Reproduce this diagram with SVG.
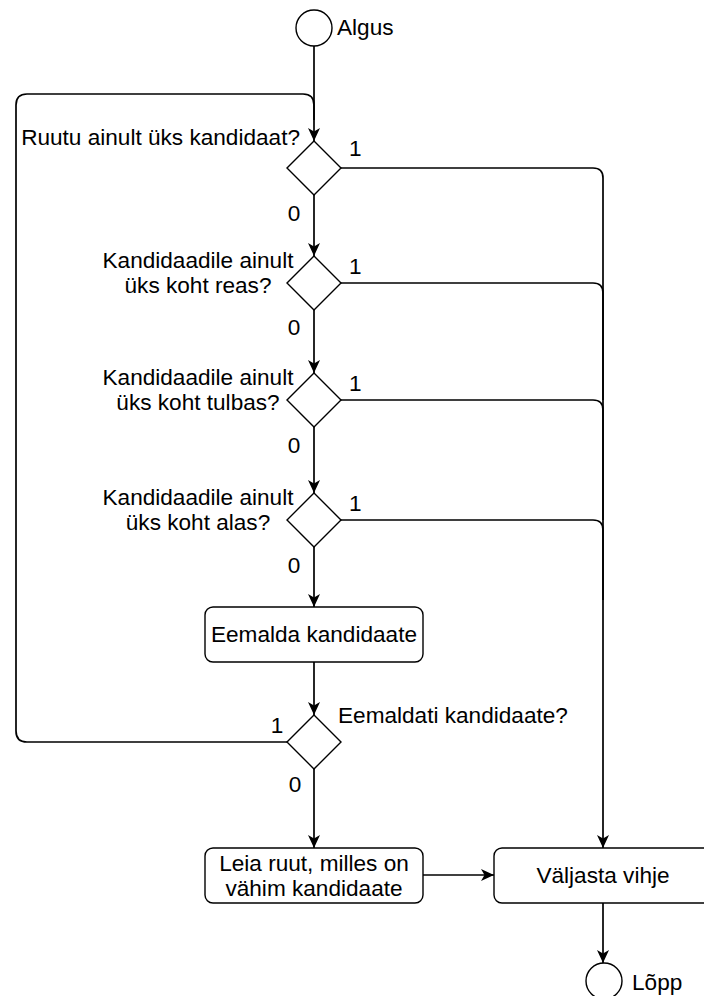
<svg xmlns="http://www.w3.org/2000/svg" width="704" height="996" viewBox="0 0 704 996">
<style>
.t{font-family:"Liberation Sans",Arial,sans-serif;font-size:22.6px;fill:#000}
.m{text-anchor:middle}
.e{text-anchor:end}
.sh{fill:#fff;stroke:#000;stroke-width:1.4}
.c{fill:none;stroke:#000;stroke-width:1.7}
</style>
<defs>
<marker id="ar" markerUnits="userSpaceOnUse" markerWidth="13" markerHeight="12" refX="13" refY="6" orient="auto">
<path d="M0,0 L13,6 L0,12 L3.5,6 Z" fill="#000"/>
</marker>
</defs>
<g id="connectors">
<path class="c" d="M314,46 L314,141" marker-end="url(#ar)"/>
<path class="c" d="M287,742 L27,742 Q16,742 16,731 L16,105 Q16,94 27,94 L303,94 Q314,94 314,105 L314,120"/>
<path class="c" d="M314,195 L314,256" marker-end="url(#ar)"/>
<path class="c" d="M314,310 L314,373" marker-end="url(#ar)"/>
<path class="c" d="M314,427 L314,493" marker-end="url(#ar)"/>
<path class="c" d="M314,547 L314,607" marker-end="url(#ar)"/>
<path class="c" d="M314,662 L314,715" marker-end="url(#ar)"/>
<path class="c" d="M314,769 L314,848" marker-end="url(#ar)"/>
<path class="c" d="M423,875 L494,875" marker-end="url(#ar)"/>
<path class="c" d="M341,168 L593,168 Q603,168 603,178 L603,848" marker-end="url(#ar)"/>
<path class="c" d="M341,283 L593,283 Q603,283 603,293 L603,400"/>
<path class="c" d="M341,400 L593,400 Q603,400 603,410 L603,520"/>
<path class="c" d="M341,520 L593,520 Q603,520 603,530 L603,600"/>
<path class="c" d="M603,903 L603,963" marker-end="url(#ar)"/>
<text class="t" x="349" y="156">1</text>
<text class="t" x="349" y="274">1</text>
<text class="t" x="349" y="391">1</text>
<text class="t" x="349" y="511">1</text>
<text class="t m" x="277" y="733">1</text>
<text class="t m" x="294" y="221">0</text>
<text class="t m" x="294" y="335">0</text>
<text class="t m" x="294" y="453">0</text>
<text class="t m" x="294" y="573">0</text>
<text class="t m" x="295" y="792">0</text>
</g>
<g id="start">
<circle class="sh" cx="314" cy="28" r="18"/>
<text class="t" x="337" y="35">Algus</text>
</g>
<g id="d1">
<path class="sh" d="M314,141 L341,168 L314,195 L287,168 Z"/>
<text class="t e" x="300" y="145">Ruutu ainult üks kandidaat?</text>
</g>
<g id="d2">
<path class="sh" d="M314,256 L341,283 L314,310 L287,283 Z"/>
<text class="t m" x="198" y="268">Kandidaadile ainult</text>
<text class="t m" x="198" y="293">üks koht reas?</text>
</g>
<g id="d3">
<path class="sh" d="M314,373 L341,400 L314,427 L287,400 Z"/>
<text class="t m" x="198" y="385">Kandidaadile ainult</text>
<text class="t m" x="198" y="410">üks koht tulbas?</text>
</g>
<g id="d4">
<path class="sh" d="M314,493 L341,520 L314,547 L287,520 Z"/>
<text class="t m" x="198" y="505">Kandidaadile ainult</text>
<text class="t m" x="198" y="530">üks koht alas?</text>
</g>
<g id="remove">
<rect class="sh" x="205" y="607" width="218" height="55" rx="8"/>
<text class="t m" x="314" y="642">Eemalda kandidaate</text>
</g>
<g id="d5">
<path class="sh" d="M314,715 L341,742 L314,769 L287,742 Z"/>
<text class="t" x="338" y="723">Eemaldati kandidaate?</text>
</g>
<g id="find">
<rect class="sh" x="205" y="848" width="218" height="55" rx="8"/>
<text class="t m" x="314" y="871">Leia ruut, milles on</text>
<text class="t m" x="314" y="896">vähim kandidaate</text>
</g>
<g id="output">
<rect class="sh" x="494" y="848" width="218" height="55" rx="8"/>
<text class="t m" x="603" y="883">Väljasta vihje</text>
</g>
<g id="end">
<circle class="sh" cx="604" cy="981" r="18"/>
<text class="t" x="632" y="990">Lõpp</text>
</g>
</svg>
